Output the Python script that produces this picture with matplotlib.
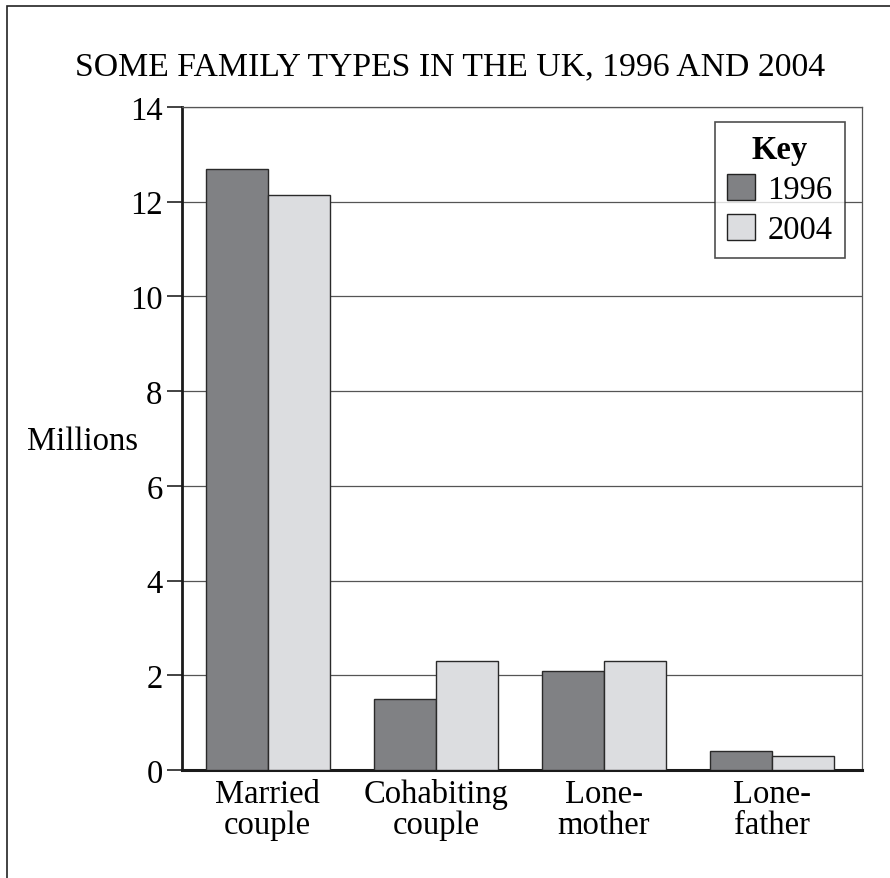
import matplotlib
matplotlib.use("Agg")
import matplotlib.pyplot as plt
from matplotlib.patches import Rectangle
import numpy as np

categories = ["Married\ncouple", "Cohabiting\ncouple", "Lone-\nmother", "Lone-\nfather"]
years = ["1996", "2004"]
values_1996 = [12.7, 1.5, 2.1, 0.4]
values_2004 = [12.15, 2.3, 2.3, 0.3]
yticks = [0, 2, 4, 6, 8, 10, 12, 14]

plt.rcParams['font.family'] = ['Liberation Serif', 'DejaVu Serif']

W, H = 890, 879
FS = 23.5
fig = plt.figure(figsize=(W / 100, H / 100), dpi=100)

# outer border (left and top visible)
fig.patches.append(Rectangle((7 / W, -0.1), 1.2, (1 - 7 / H) + 0.1, transform=fig.transFigure,
                             fill=False, edgecolor='#222222', linewidth=1.2))

ax = fig.add_axes([182 / W, 1 - 771 / H, (862 - 182) / W, (771 - 108) / H])

x = np.arange(len(categories))
bw = 0.37
ax.bar(x - bw / 2, values_1996, width=bw, color='#808184', edgecolor='#2a2a2a', linewidth=1.0,
       label=years[0], zorder=3)
ax.bar(x + bw / 2, values_2004, width=bw, color='#dcdde0', edgecolor='#2a2a2a', linewidth=1.0,
       label=years[1], zorder=3)

ax.set_xlim(-0.51, 3.535)
ax.set_ylim(0, 14)
ax.set_yticks(yticks)
ax.set_yticklabels([str(t) for t in yticks], fontsize=FS)
ax.yaxis.grid(True, color='#555555', linewidth=0.9, zorder=0)
ax.set_axisbelow(True)

ax.set_xticks(x)
ax.set_xticklabels(categories, fontsize=FS, linespacing=1.02)
ax.tick_params(axis='x', length=0, pad=6)
ax.tick_params(axis='y', length=11, width=1.2, color='#222222', pad=3)

ax.spines['left'].set_linewidth(2.0)
ax.spines['left'].set_color('#1a1a1a')
ax.spines['bottom'].set_linewidth(2.2)
ax.spines['bottom'].set_color('#1a1a1a')
ax.spines['top'].set_linewidth(0.9)
ax.spines['top'].set_color('#555555')
ax.spines['right'].set_linewidth(0.9)
ax.spines['right'].set_color('#555555')

fig.text(450 / W, 1 - 75 / H, "SOME FAMILY TYPES IN THE UK, 1996 AND 2004",
         ha='center', va='baseline', fontsize=24.3)
fig.text(82 / W, 1 - 450 / H, "Millions", ha='center', va='baseline', fontsize=FS)

leg = ax.legend(loc='upper right', bbox_to_anchor=(1 - 17 / 680, 1 - 15 / 663),
                title="Key", fontsize=FS, title_fontproperties={'weight': 'bold', 'size': FS},
                frameon=True, fancybox=False, handlelength=0.86, handleheight=0.86,
                handletextpad=0.37, borderpad=0.38, labelspacing=0.26, borderaxespad=0)
leg.get_frame().set_edgecolor('#222222')
leg.get_frame().set_linewidth(1.2)
for h in leg.legend_handles:
    h.set_edgecolor('#222222')

fig.savefig("out.png", dpi=100)
